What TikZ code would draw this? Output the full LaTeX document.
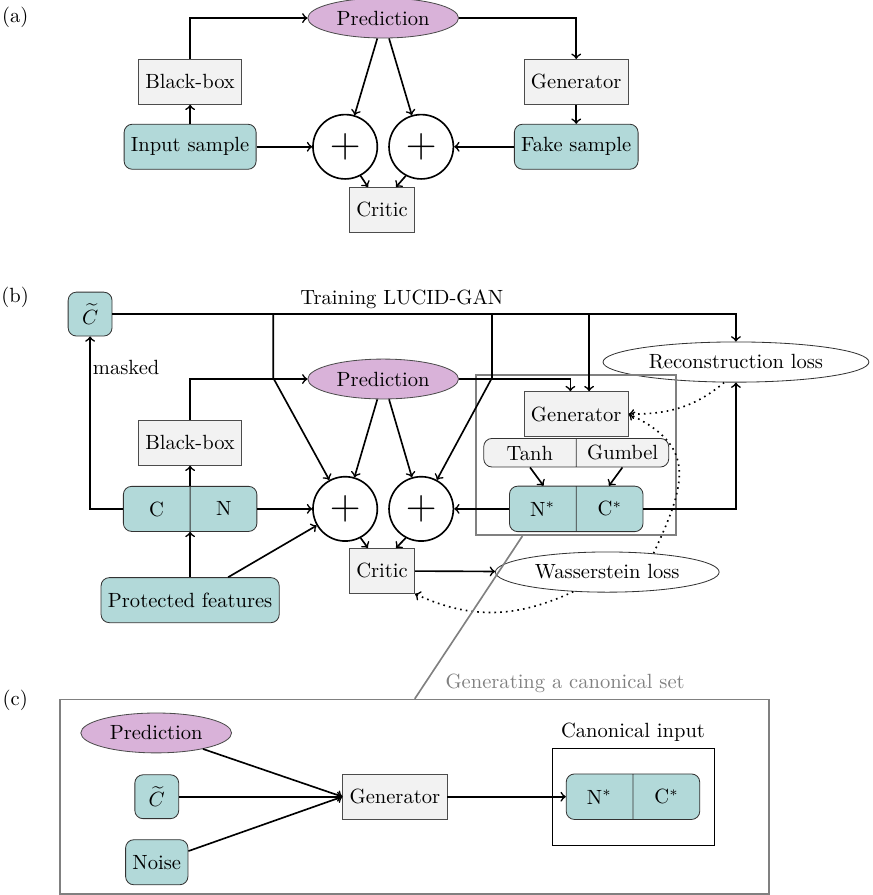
\documentclass[tikz,border=0pt]{standalone}
\usepackage{amsmath}
\usepackage{amssymb}
\usepackage{tikz}
\usetikzlibrary{arrows,shapes.geometric,shapes.multipart}

\begin{document}
\begin{tikzpicture}[
scale=1,
flow/.style={thick,->},
feedback/.style={thick,dotted,->},
box/.style={draw=black!70,fill=gray!10,minimum height=0.77cm},
data/.style={draw=black!80,fill=teal!30,rounded corners,minimum height=0.77cm},
pred/.style={ellipse,draw=black!70,fill=violet!30},
loss/.style={ellipse,draw=black!80},
sum/.style={circle,draw,thick,minimum size=1.1cm,inner sep=0pt,font=\huge},
pair/.style={rectangle split,rectangle split horizontal,rectangle split parts=2,draw=black!80,rounded corners,text width=0.9cm,align=center,text height=2.5mm,text depth=0mm,inner ysep=2.6mm},
frame/.style={draw=gray,thick}
]
    \useasboundingbox (0,0) rectangle (14.906,15.299);

    % (a) plain GAN
    \node (labA) at (0.26,15.0) {(a)};
    \node[pred] (predA) at (6.55,14.99) {Prediction};
    \node[box] (bboxA) at (3.25,13.90) {Black-box};
    \node[data] (inputA) at (3.25,12.79) {Input sample};
    \node[sum] (plusA1) at (5.90,12.79) {$+$};
    \node[sum] (plusA2) at (7.20,12.79) {$+$};
    \node[box] (criticA) at (6.53,11.71) {Critic};
    \node[box] (genA) at (9.85,13.90) {Generator};
    \node[data] (fakeA) at (9.85,12.79) {Fake sample};

    \draw[flow] (inputA) -- (bboxA);
    \draw[flow] (bboxA.north) |- (predA.west);
    \draw[flow] (inputA) -- (plusA1);
    \draw[flow] ([xshift=-0.1cm]predA.south) -- (plusA1);
    \draw[flow] ([xshift=0.1cm]predA.south) -- (plusA2);
    \draw[flow] (predA.east) -| (genA.north);
    \draw[flow] (genA) -- (fakeA);
    \draw[flow] (fakeA) -- (plusA2);
    \draw[flow] (plusA1.-62) -- ([xshift=-0.24cm]criticA.north);
    \draw[flow] (plusA2.-118) -- ([xshift=0.24cm]criticA.north);

    % (b) training
    \node (labB) at (0.26,10.22) {(b)};
    \node[data,minimum size=0.75cm,inner sep=0pt] (ctB) at (1.54,9.93) {$\widetilde{C}$};
    \node (titleB) at (6.87,10.19) {Training LUCID-GAN};
    \node[pred] (predB) at (6.55,8.82) {Prediction};
    \node[box] (bboxB) at (3.25,7.73) {Black-box};
    \node[pair,fill=teal!30] (cnB) at (3.25,6.60) {C\nodepart{two}N};
    \node[data] (protB) at (3.25,5.04) {Protected features};
    \node[sum] (plusB1) at (5.90,6.60) {$+$};
    \node[sum] (plusB2) at (7.20,6.60) {$+$};
    \node[box] (criticB) at (6.53,5.54) {Critic};
    \node[loss] (wassB) at (10.38,5.52) {Wasserstein loss};
    \node[loss] (recB) at (12.58,9.11) {Reconstruction loss};
    \node[box] (genB) at (9.85,8.22) {Generator};
    \node[pair,fill=gray!10,text width=1.34cm,inner ysep=1.15mm] (actB) at (9.85,7.56) {Tanh\nodepart{two}Gumbel};
    \node[pair,fill=teal!30] (outB) at (9.85,6.60) {N$^*$\nodepart{two}C$^*$};
    \node[frame,minimum width=3.42cm,minimum height=2.74cm] (grpB) at (9.85,7.52) {};

    \coordinate (J1) at (4.67,9.93);
    \coordinate (K1) at (4.67,8.84);
    \coordinate (J2) at (8.41,9.93);
    \coordinate (K2) at (8.41,8.84);
    \coordinate (J3) at (10.07,9.93);

    \draw[flow] (ctB.east) -| (recB.north);
    \draw[flow] (J1) -- (K1) -- (plusB1);
    \draw[flow] (J2) -- (K2) -- (plusB2);
    \draw[flow] (J3) -- (J3 |- genB.north);
    \draw[flow] (bboxB.north) |- (predB.west);
    \draw[flow] (predB.east) -| ([xshift=-0.1cm]genB.north);
    \draw[flow] ([xshift=-0.1cm]predB.south) -- (plusB1);
    \draw[flow] ([xshift=0.1cm]predB.south) -- (plusB2);
    \draw[flow] (cnB.west) -| (ctB.south) node[pos=0.91,right,inner xsep=1pt] (maskB) {masked};
    \draw[flow] (protB) -- (cnB);
    \draw[flow] (cnB) -- (bboxB);
    \draw[flow] ([xshift=0.65cm]protB.north) -- (plusB1);
    \draw[flow] (cnB) -- (plusB1);
    \draw[flow] (outB) -- (plusB2);
    \draw[flow] (outB.east) -| (recB.south);
    \draw[flow] (plusB1.-62) -- ([xshift=-0.24cm]criticB.north);
    \draw[flow] (plusB2.-118) -- ([xshift=0.24cm]criticB.north);
    \draw[flow] (criticB) -- (wassB);
    \draw[flow] ([xshift=-0.79cm]actB.south) -- ([xshift=-0.56cm]outB.north);
    \draw[flow] ([xshift=0.79cm]actB.south) -- ([xshift=0.56cm]outB.north);
    % losses fed back
    \draw[feedback] (recB.240) to[out=-140,in=0] (genB.east);
    \draw[feedback] (wassB.22) .. controls +(65:1.3) and +(-25:1.3) .. (genB.east);
    \draw[feedback] (wassB.-150) to[out=-155,in=-25] (criticB.south east);

    % (c) generating
    \node (labC) at (0.26,3.33) {(c)};
    \node[frame,minimum width=12.12cm,minimum height=3.32cm] (boxC) at (7.09,1.68) {};
    \node[gray] (titleC) at (9.66,3.62) {Generating a canonical set};
    \draw[frame] ([xshift=-0.92cm]grpB.south) -- (boxC.north);
    \node[pred] (predC) at (2.67,2.77) {Prediction};
    \node[data,minimum size=0.75cm,inner sep=0pt] (ctC) at (2.68,1.68) {$\widetilde{C}$};
    \node[data] (noiseC) at (2.68,0.56) {Noise};
    \node[box] (genC) at (6.75,1.68) {Generator};
    \node[draw,minimum width=2.77cm,minimum height=1.66cm] (ciC) at (10.82,1.67) {};
    \node[above] (ciLabel) at (ciC.north) {Canonical input};
    \node[pair,fill=teal!30] (outC) at (10.82,1.68) {N$^*$\nodepart{two}C$^*$};

    \draw[flow] (predC) -- (genC.west);
    \draw[flow] (ctC) -- (genC.west);
    \draw[flow] (noiseC) -- (genC.west);
    \draw[flow] (genC) -- (outC);
\end{tikzpicture}
\end{document}
